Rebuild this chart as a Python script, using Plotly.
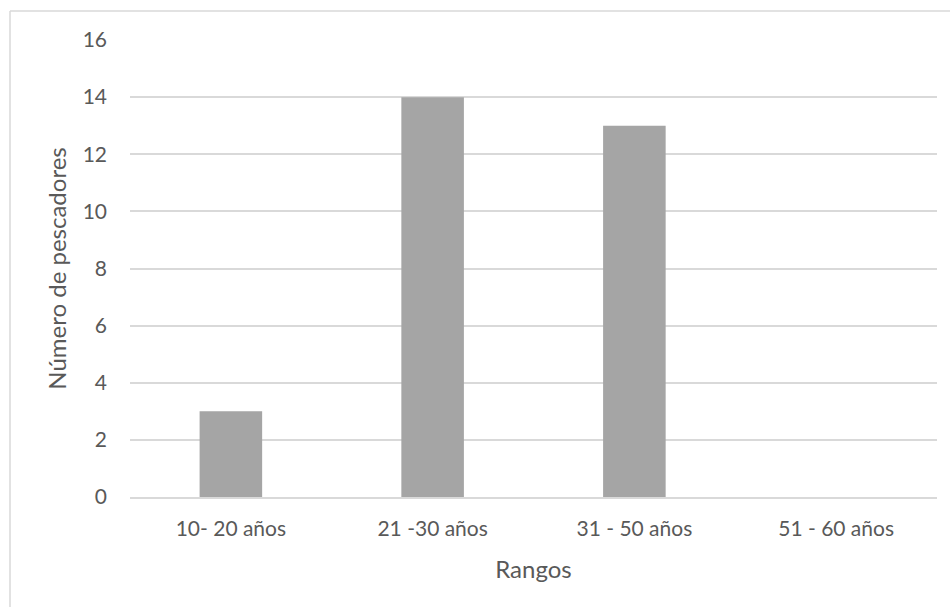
import plotly.graph_objects as go

# Age ranges of the fishermen surveyed and how many fall in each
rangos = ["10- 20 años", "21 -30 años", "31 - 50 años", "51 - 60 años"]
pescadores = [3, 14, 13, 0]
y_ticks = [0, 2, 4, 6, 8, 10, 12, 14, 16]

W, H = 950, 607
ML, MR, MT, MB = 130, 13, 40, 110
plot_w = W - ML - MR
plot_h = H - MT - MB

font_family = "Lato, Carlito, Calibri, sans-serif"
text_color = "#595959"
grid_color = "#D9D9D9"

fig = go.Figure(
    go.Bar(
        x=rangos,
        y=pescadores,
        marker=dict(color="#A5A5A5", line=dict(width=0)),
        hoverinfo="x+y",
    )
)

# Outer chart frame (top and left edges visible inside the window)
fx0 = (10 - ML) / plot_w
fy0 = (H - MB - 11) / plot_h
fig.add_shape(type="line", xref="paper", yref="paper",
              x0=fx0, x1=1.2, y0=fy0, y1=fy0,
              line=dict(color=grid_color, width=1.5))
fig.add_shape(type="line", xref="paper", yref="paper",
              x0=fx0, x1=fx0, y0=fy0, y1=-0.5,
              line=dict(color=grid_color, width=1.5))

fig.update_layout(
    width=W,
    height=H,
    margin=dict(l=ML, r=MR, t=MT, b=MB),
    paper_bgcolor="white",
    plot_bgcolor="white",
    bargap=0.69,
    showlegend=False,
    font=dict(family=font_family, color=text_color, size=21),
    xaxis=dict(
        title=dict(text="Rangos", font=dict(size=24, color=text_color), standoff=22),
        showgrid=False,
        showline=True,
        linecolor=grid_color,
        linewidth=1.5,
        ticks="",
        ticklabelstandoff=12,
        tickfont=dict(size=21, color=text_color),
    ),
    yaxis=dict(
        title=dict(text="Número de pescadores", font=dict(size=24, color=text_color), standoff=9),
        range=[0, 16],
        tickvals=y_ticks,
        showgrid=True,
        gridcolor=grid_color,
        gridwidth=1.5,
        zeroline=False,
        ticks="",
        ticklabelstandoff=22,
        tickfont=dict(size=21, color=text_color),
    ),
)

fig.write_html("out.html")
